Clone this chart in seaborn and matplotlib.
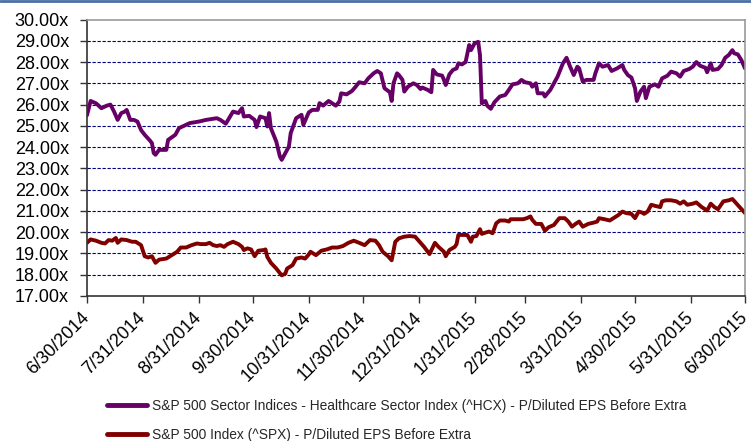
import numpy as np
import pandas as pd
import matplotlib
matplotlib.use("Agg")
import matplotlib.pyplot as plt
import matplotlib.dates as mdates
from matplotlib.lines import Line2D
from matplotlib.ticker import FuncFormatter
import seaborn as sns

# ---- data (days since 2014-06-30, P/E multiple) ----
hcx_days = [0, 2, 5, 8, 11, 13, 15, 17, 19, 21, 22, 24, 26, 28, 30, 32, 35, 36, 37, 38,
            40, 44, 45, 49, 51, 57, 62, 66, 72, 74, 77, 81, 84, 86, 87, 90, 93, 94, 96, 99,
            100, 101, 102, 105, 107, 108, 110, 112, 113, 116, 119, 120, 123, 125, 128, 129, 131, 134, 136, 138,
            140, 141, 144, 147, 149, 151, 154, 156, 159, 161, 163, 165, 168, 169, 170, 172, 173, 175, 176, 178,
            181, 183, 185, 186, 189, 191, 192, 194, 197, 198, 199, 201, 203, 205, 206, 208, 210, 212, 213, 214,
            215, 217, 218, 219, 221, 222, 224, 226, 229, 232, 234, 236, 239, 241, 243, 246, 247, 249, 250, 253,
            254, 257, 260, 261, 264, 266, 268, 270, 272, 273, 275, 277, 281, 282, 284, 286, 289, 291, 294, 297,
            298, 300, 302, 304, 305, 307, 309, 310, 312, 315, 317, 319, 322, 324, 327, 329, 331, 334, 336, 338,
            340, 343, 344, 346, 347, 350, 352, 354, 356, 358, 359, 361, 363, 365]
hcx_vals = [25.50, 26.17, 26.06, 25.83, 25.95, 26.00, 25.67, 25.28, 25.60, 25.67, 25.75, 25.28, 25.28, 25.20, 24.80, 24.58, 24.30, 24.19, 23.72, 23.64,
            23.87, 23.87, 24.34, 24.58, 24.89, 25.13, 25.20, 25.28, 25.36, 25.28, 25.10, 25.67, 25.60, 25.83, 25.44, 25.47, 25.28, 24.94, 25.44, 25.36,
            24.97, 25.60, 24.89, 24.26, 23.56, 23.40, 23.72, 24.03, 24.66, 25.36, 25.52, 25.05, 25.63, 25.75, 25.75, 26.07, 25.95, 26.17, 26.06, 25.95,
            26.14, 26.53, 26.48, 26.64, 26.84, 27.05, 27.00, 27.23, 27.47, 27.58, 27.47, 26.77, 26.58, 26.17, 27.00, 27.47, 27.39, 27.16, 26.61, 26.84,
            27.00, 26.92, 26.73, 26.80, 26.69, 26.58, 27.63, 27.42, 27.36, 27.16, 26.92, 27.42, 27.63, 27.70, 27.94, 27.89, 28.00, 28.80, 28.56, 28.72,
            28.88, 28.95, 28.33, 26.06, 26.17, 25.95, 25.80, 26.11, 26.38, 26.45, 26.69, 26.95, 27.00, 27.16, 27.05, 27.00, 26.84, 27.00, 26.53, 26.53,
            26.38, 26.69, 27.16, 27.31, 27.94, 28.20, 27.78, 27.39, 27.78, 27.70, 27.08, 27.16, 27.16, 27.47, 27.94, 27.78, 27.86, 27.58, 27.70, 27.86,
            27.63, 27.39, 27.27, 26.77, 26.17, 26.61, 26.84, 26.30, 26.84, 26.95, 26.84, 27.23, 27.36, 27.55, 27.47, 27.31, 27.58, 27.67, 27.78, 28.00,
            27.83, 27.73, 27.52, 27.94, 27.63, 27.67, 27.86, 28.20, 28.33, 28.56, 28.41, 28.36, 28.09, 27.70]

spx_days = [0, 2, 5, 8, 10, 12, 14, 16, 17, 19, 22, 25, 27, 30, 32, 34, 36, 38, 40, 44,
            47, 50, 52, 55, 58, 61, 63, 66, 68, 70, 72, 74, 76, 78, 81, 84, 86, 87, 89, 91,
            93, 95, 98, 99, 100, 102, 105, 108, 110, 111, 114, 116, 119, 121, 123, 124, 127, 130, 133, 136,
            139, 142, 145, 148, 151, 154, 157, 160, 162, 164, 167, 169, 171, 173, 176, 179, 182, 185, 187, 190,
            193, 195, 198, 199, 201, 204, 205, 206, 209, 211, 213, 214, 216, 218, 219, 221, 223, 225, 227, 229,
            232, 234, 235, 238, 242, 244, 246, 247, 249, 252, 254, 256, 259, 260, 262, 265, 267, 269, 271, 273,
            275, 278, 281, 283, 284, 287, 290, 292, 295, 297, 299, 302, 304, 306, 308, 309, 311, 313, 315, 318,
            319, 321, 324, 327, 329, 331, 333, 336, 338, 341, 344, 346, 348, 350, 353, 356, 358, 360, 362, 365]
spx_vals = [19.50, 19.66, 19.60, 19.50, 19.47, 19.63, 19.60, 19.73, 19.50, 19.66, 19.63, 19.55, 19.55, 19.39, 18.87, 18.81, 18.87, 18.56, 18.71, 18.76,
            18.92, 19.08, 19.28, 19.28, 19.39, 19.47, 19.44, 19.44, 19.50, 19.39, 19.35, 19.39, 19.31, 19.44, 19.55, 19.44, 19.31, 19.16, 19.24, 19.19,
            18.87, 19.13, 19.16, 19.19, 18.84, 18.56, 18.29, 17.97, 18.05, 18.29, 18.45, 18.76, 18.81, 18.76, 18.95, 19.08, 18.92, 19.13, 19.19, 19.28,
            19.28, 19.35, 19.50, 19.60, 19.50, 19.39, 19.63, 19.60, 19.39, 19.08, 18.87, 18.68, 19.55, 19.71, 19.79, 19.82, 19.79, 19.50, 19.31, 18.97,
            19.50, 19.31, 19.08, 18.87, 19.16, 19.31, 19.44, 19.87, 19.87, 19.87, 19.55, 19.79, 19.82, 20.14, 19.92, 19.98, 20.03, 19.95, 20.42, 20.55,
            20.55, 20.50, 20.61, 20.61, 20.61, 20.66, 20.74, 20.58, 20.39, 20.39, 20.07, 20.23, 20.34, 20.45, 20.66, 20.66, 20.50, 20.26, 20.39, 20.50,
            20.26, 20.39, 20.45, 20.50, 20.66, 20.61, 20.55, 20.66, 20.82, 20.97, 20.90, 20.86, 20.66, 20.97, 20.92, 20.86, 20.97, 21.29, 21.24, 21.18,
            21.45, 21.50, 21.50, 21.45, 21.34, 21.45, 21.29, 21.34, 21.40, 21.18, 21.02, 21.34, 21.18, 21.08, 21.45, 21.50, 21.56, 21.37, 21.18, 20.90]

tick_dates = ["2014-06-30", "2014-07-31", "2014-08-31", "2014-09-30", "2014-10-31", "2014-11-30",
              "2014-12-31", "2015-01-31", "2015-02-28", "2015-03-31", "2015-04-30", "2015-05-31",
              "2015-06-30"]
y_ticks = list(range(17, 31))

hcx_label = "S&P 500 Sector Indices - Healthcare Sector Index (^HCX) - P/Diluted EPS Before Extra"
spx_label = "S&P 500 Index (^SPX) - P/Diluted EPS Before Extra"

start = pd.Timestamp("2014-06-30")
df = pd.concat([
    pd.DataFrame({"date": start + pd.to_timedelta(hcx_days, unit="D"), "value": hcx_vals, "series": hcx_label}),
    pd.DataFrame({"date": start + pd.to_timedelta(spx_days, unit="D"), "value": spx_vals, "series": spx_label}),
])

sns.set_theme(style="white")
plt.rcParams["font.family"] = ["Liberation Sans", "DejaVu Sans"]

fig = plt.figure(figsize=(7.51, 4.41), dpi=100)
ax = fig.add_axes([87 / 751, 1 - 296 / 441, 658 / 751, (296 - 19.5) / 441])

palette = {hcx_label: "#660066", spx_label: "#800000"}
sns.lineplot(data=df, x="date", y="value", hue="series", palette=palette, ax=ax,
             linewidth=2.8, legend=False, sort=False)

ax.set_xlim(pd.Timestamp(tick_dates[0]), pd.Timestamp(tick_dates[-1]))
ax.set_ylim(17, 30)
ax.set_yticks(y_ticks)
ax.yaxis.set_major_formatter(FuncFormatter(lambda v, p: f"{v:.2f}x"))
tds = [pd.Timestamp(t) for t in tick_dates]
ax.set_xticks(tds)
ax.set_xticklabels([f"{t.month}/{t.day}/{t.year}" for t in tds])
ax.set_xlabel("")
ax.set_ylabel("")

for yv in y_ticks[1:-1]:
    ax.axhline(yv, color="#000080", linewidth=0.8, linestyle=(0, (3, 1.5)), zorder=0)

ax.tick_params(axis="both", which="major", direction="out", length=5, width=1,
               color="#333333", labelsize=13, labelcolor="black", left=True, bottom=True)
ax.tick_params(axis="y", pad=8)
ax.tick_params(axis="x", pad=9)
for lab in ax.get_xticklabels():
    lab.set_rotation(45)
    lab.set_ha("right")
    lab.set_va("center")
    lab.set_rotation_mode("anchor")

for side in ["left", "bottom"]:
    ax.spines[side].set_color("#333333")
    ax.spines[side].set_linewidth(1.2)
for side in ["top", "right"]:
    ax.spines[side].set_color("#999999")
    ax.spines[side].set_linewidth(1.2)

handles = [Line2D([0], [0], color="#660066", lw=3.5), Line2D([0], [0], color="#800000", lw=3.5)]
fig.legend(handles, [hcx_label, spx_label], loc="upper left", bbox_to_anchor=(103 / 751, 1 - 395 / 441),
           frameon=False, fontsize=9.9, handlelength=2.9, handletextpad=0.35, labelspacing=1.1,
           borderaxespad=0, borderpad=0.3)

fig.add_artist(Line2D([0, 1], [0.998, 0.998], transform=fig.transFigure, color="#4a6fa5", lw=2))

fig.savefig("out.png", dpi=100)
